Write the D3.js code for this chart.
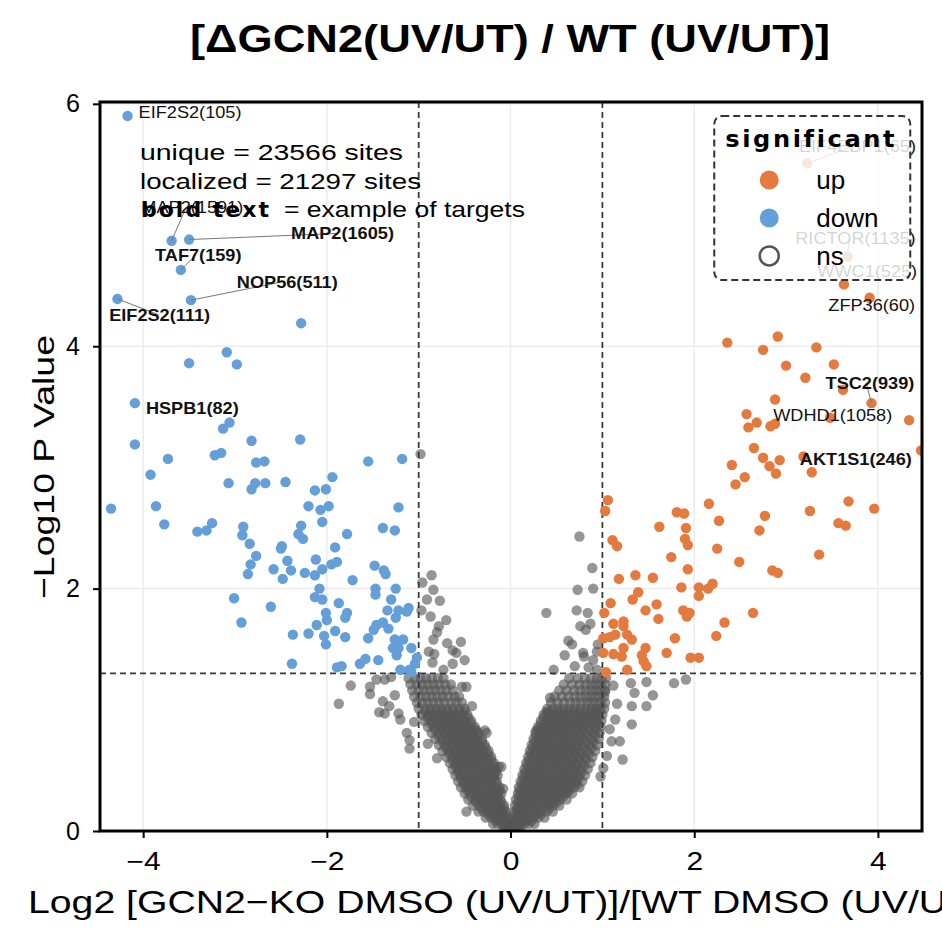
<!DOCTYPE html>
<html>
<head>
<meta charset="utf-8">
<script src="https://cdn.jsdelivr.net/npm/d3@7"></script>
<style>
  body { margin: 0; background: #fff; }
  svg text { font-family: "Liberation Sans", Arial, Helvetica, sans-serif; }
</style>
</head>
<body>
<svg width="942" height="944"></svg>
<script>
// significant down (blue)
const downX = [-4.17,-3.69,-3.50,-3.59,-4.28,-3.48,-2.28,-3.09,-3.50,-2.98,-4.09,-3.06,-3.13,-4.09,-2.82,-2.29,-3.73,-3.22,-3.15,-2.77,
  -2.68,-1.55,-1.18,-3.92,-3.07,-2.82,-2.78,-2.67,-2.45,-1.94,-2.13,-2.01,-4.35,-3.86,-3.77,-3.41,-3.31,-3.25,-2.91,-2.92,
  -2.84,-2.20,-2.07,-1.98,-2.05,-2.28,-2.31,-2.26,-1.78,-1.39,-1.26,-1.22,-2.49,-2.50,-2.77,-2.83,-2.86,-2.58,-2.43,-2.39,
  -2.48,-2.24,-2.13,-2.12,-2.05,-1.95,-1.89,-1.91,-1.72,-1.48,-1.38,-1.36,-2.08,-2.13,-2.05,-3.01,-2.61,-2.93,-1.87,-2.01,
  -2.00,-1.78,-1.80,-2.11,-2.37,-2.20,-2.03,-2.01,-1.91,-1.80,-1.47,-1.47,-1.25,-1.30,-1.34,-1.25,-1.22,-1.11,-1.13,-1.46,
  -1.39,-1.33,-1.49,-1.55,-1.26,-1.17,-1.28,-1.22,-1.08,-1.24,-1.44,-1.64,-1.58,-2.38,-1.89,-1.84,-1.20,-1.10,-1.04,-1.08,-1.02];
const downY = [5.90,4.87,4.88,4.63,4.39,4.38,4.19,3.95,3.86,3.85,3.53,3.37,3.32,3.19,3.22,3.23,3.07,3.10,3.12,3.04,
  3.05,3.05,3.07,2.94,2.87,2.82,2.87,2.87,2.88,2.92,2.81,2.82,2.66,2.68,2.53,2.47,2.48,2.54,2.51,2.44,
  2.37,2.68,2.65,2.68,2.55,2.52,2.45,2.41,2.45,2.50,2.48,2.67,2.35,2.33,2.27,2.20,2.12,2.16,2.23,2.15,
  2.08,2.13,2.11,2.24,2.16,2.20,2.22,2.34,2.07,2.19,2.15,2.12,2.00,1.93,1.91,1.92,1.85,1.72,1.88,1.80,
  1.74,1.80,1.76,1.70,1.62,1.63,1.61,1.54,1.65,1.60,2.00,1.95,2.00,1.91,1.82,1.76,1.82,1.84,1.81,1.70,
  1.72,1.67,1.66,1.59,1.58,1.58,1.51,1.51,1.51,1.45,1.41,1.38,1.42,1.38,1.35,1.36,1.33,1.33,1.38,1.31,1.43];

// significant up (orange)
const upX = [2.36,2.75,2.91,3.33,3.00,3.52,3.21,3.62,3.93,2.88,2.57,2.59,2.68,2.83,2.88,3.48,4.34,4.47,2.65,2.75,
  2.82,2.93,2.89,3.19,3.28,2.41,2.55,2.45,1.06,1.03,2.16,1.81,1.89,2.27,2.77,3.26,3.68,3.96,1.62,1.91,
  1.90,1.93,2.71,3.57,3.65,1.11,1.16,1.75,2.25,3.36,1.93,2.49,2.85,2.91,1.18,1.36,1.55,1.86,2.05,2.15,
  2.20,2.05,1.39,1.33,1.09,1.02,1.47,1.59,1.61,1.88,1.92,1.95,2.64,2.33,1.12,1.23,1.23,1.27,1.32,1.08,
  1.14,1.01,1.79,2.24,1.23,1.21,1.12,1.01,1.43,1.47,1.45,1.48,1.70,1.96,2.05,1.27,1.04,3.23,3.67,3.63,3.91];
const upY = [4.03,3.97,4.08,3.99,3.84,3.85,3.74,3.64,3.53,3.56,3.44,3.33,3.37,3.34,3.36,3.41,3.39,3.14,3.16,3.08,
  3.01,3.06,2.95,3.09,2.96,3.02,2.92,2.86,2.73,2.64,2.70,2.63,2.62,2.56,2.60,2.64,2.72,2.66,2.51,2.50,
  2.41,2.36,2.48,2.54,2.52,2.40,2.35,2.26,2.33,2.28,2.16,2.22,2.15,2.13,2.08,2.11,2.09,2.01,2.01,2.00,
  2.04,1.94,1.97,1.91,1.88,1.80,1.82,1.87,1.75,1.82,1.77,1.80,1.80,1.72,1.71,1.73,1.69,1.62,1.58,1.60,
  1.62,1.59,1.59,1.61,1.51,1.44,1.46,1.47,1.45,1.51,1.40,1.36,1.47,1.43,1.43,1.33,1.31,5.51,4.74,4.51,4.40];

// not significant: scattered points
const nsX = [-0.98,-0.86,-0.96,-0.84,-0.91,-0.77,-0.97,-0.87,-0.70,-0.78,-0.80,-0.84,-0.69,-0.54,-0.89,-0.83,-0.63,-0.59,-0.85,-0.63,-0.50,-0.73,
  0.75,0.89,0.73,0.90,0.39,0.72,0.84,0.76,0.82,0.87,0.63,0.67,0.79,0.80,0.94,0.47,0.70,0.90,0.95,0.85,0.94,0.59,
  -1.74,-1.87,-1.53,-1.53,-1.46,-1.37,-1.30,-1.39,-1.32,-1.43,-1.37,-1.26,-1.22,-1.20,-1.13,-1.10,-1.10,-0.42,-0.13,-0.48,-0.53,-0.48,-0.28,-0.26,-0.37,
  1.31,1.35,1.48,1.55,1.78,1.91,1.32,1.48,1.32,1.16,1.14,1.10,1.19,1.22,1.01,0.43,0.41,0.28,0.34,-0.10,-0.08,
  1.05,1.08,1.03,1.12,-0.80,-0.90,-1.05,0.98];
const nsY = [3.11,2.11,2.05,1.99,1.91,1.90,1.82,1.77,1.74,1.69,1.64,1.58,1.55,1.56,1.48,1.46,1.49,1.47,1.39,1.38,1.41,1.33,
  2.43,2.17,1.99,2.00,1.80,1.82,1.80,1.69,1.66,1.71,1.57,1.54,1.47,1.44,1.48,1.33,1.36,1.41,1.54,1.35,1.33,1.45,
  1.20,1.05,1.19,1.13,1.25,1.25,1.27,1.07,1.03,0.98,0.97,1.12,0.97,0.92,0.81,0.75,0.68,1.03,0.53,0.16,1.19,1.19,0.83,0.81,0.83,
  1.22,1.14,1.23,1.12,1.22,1.25,1.03,1.03,0.88,1.05,0.92,0.74,0.74,0.59,0.52,1.10,0.98,0.83,0.83,0.53,0.35,
  0.62,0.84,1.15,1.20,0.60,0.72,0.90,0.45];

// not significant: dense V-shaped core, read row by row
const nsRowY = [0.02,0.06,0.11,0.16,0.21,0.26,0.31,0.36,0.41,0.46,0.51,0.56,0.61,0.66,0.71,0.76,0.81,0.86,0.91,0.96,1.01,1.06,1.11,1.16,1.21,1.26];
const nsRowX = [
  [-0.08,-0.05,-0.02,0.01,0.04,0.07,0.11],
  [-0.19,-0.14,-0.09,-0.05,-0.02,0.02,0.06,0.11,0.15,0.2,0.26],
  [-0.27,-0.21,-0.17,-0.12,-0.08,-0.04,0.03,0.08,0.13,0.18,0.25,0.3,0.37],
  [-0.35,-0.29,-0.24,-0.18,-0.13,-0.09,-0.05,0.04,0.09,0.15,0.2,0.27,0.32,0.39,0.46],
  [-0.41,-0.34,-0.28,-0.23,-0.17,-0.12,-0.07,0.05,0.1,0.16,0.23,0.28,0.35,0.41,0.46,0.53],
  [-0.46,-0.39,-0.34,-0.28,-0.22,-0.17,-0.11,0.06,0.12,0.18,0.24,0.3,0.35,0.42,0.48,0.54,0.61],
  [-0.5,-0.44,-0.38,-0.32,-0.26,-0.2,-0.14,-0.1,0.08,0.13,0.19,0.25,0.31,0.38,0.43,0.49,0.56,0.61,0.67],
  [-0.54,-0.48,-0.43,-0.36,-0.3,-0.25,-0.18,-0.12,0.09,0.15,0.21,0.27,0.33,0.39,0.45,0.51,0.57,0.63,0.69,0.75],
  [-0.57,-0.51,-0.45,-0.39,-0.34,-0.27,-0.21,-0.15,0.11,0.17,0.23,0.28,0.35,0.41,0.47,0.52,0.59,0.65,0.71,0.78],
  [-0.6,-0.54,-0.48,-0.42,-0.36,-0.31,-0.24,-0.18,-0.14,0.13,0.19,0.25,0.31,0.37,0.42,0.49,0.55,0.61,0.67,0.74,0.81],
  [-0.63,-0.57,-0.51,-0.45,-0.39,-0.33,-0.27,-0.21,-0.16,0.15,0.21,0.26,0.33,0.39,0.45,0.5,0.57,0.63,0.69,0.76,0.84],
  [-0.66,-0.6,-0.55,-0.48,-0.42,-0.36,-0.3,-0.24,-0.18,0.17,0.23,0.29,0.35,0.4,0.47,0.53,0.59,0.65,0.71,0.78,0.87],
  [-0.7,-0.63,-0.57,-0.51,-0.45,-0.39,-0.33,-0.27,-0.21,0.19,0.24,0.31,0.37,0.43,0.49,0.55,0.61,0.67,0.74,0.81,0.89],
  [-0.74,-0.67,-0.6,-0.54,-0.48,-0.42,-0.36,-0.3,-0.24,0.21,0.27,0.33,0.39,0.44,0.51,0.57,0.63,0.69,0.76,0.83,0.92],
  [-0.78,-0.71,-0.64,-0.58,-0.52,-0.46,-0.4,-0.34,-0.28,0.23,0.29,0.35,0.41,0.47,0.53,0.59,0.64,0.71,0.78,0.86,0.94],
  [-0.82,-0.75,-0.68,-0.62,-0.56,-0.5,-0.44,-0.38,-0.31,0.25,0.31,0.36,0.43,0.49,0.55,0.61,0.67,0.73,0.8,0.88,0.96],
  [-0.86,-0.79,-0.72,-0.66,-0.6,-0.54,-0.48,-0.42,-0.35,0.27,0.33,0.39,0.45,0.51,0.57,0.62,0.69,0.75,0.82,0.9,0.97],
  [-0.9,-0.83,-0.76,-0.7,-0.64,-0.58,-0.52,-0.46,-0.39,0.3,0.36,0.42,0.48,0.54,0.6,0.66,0.72,0.78,0.85,0.92,0.98],
  [-0.94,-0.87,-0.8,-0.74,-0.68,-0.62,-0.56,-0.5,-0.43,0.33,0.39,0.45,0.51,0.57,0.63,0.69,0.75,0.81,0.87,0.93,0.99],
  [-0.97,-0.9,-0.84,-0.78,-0.72,-0.66,-0.6,-0.53,-0.47,0.36,0.42,0.48,0.54,0.6,0.66,0.72,0.78,0.84,0.9,0.95,1.0],
  [-1.0,-0.93,-0.87,-0.81,-0.75,-0.69,-0.63,-0.56,-0.5,0.4,0.46,0.52,0.58,0.64,0.7,0.76,0.82,0.88,0.93,0.98,1.02],
  [-1.02,-0.96,-0.9,-0.84,-0.78,-0.72,-0.65,-0.59,-0.53,0.44,0.51,0.58,0.65,0.71,0.77,0.83,0.88,0.93,0.98,1.03],
  [-1.05,-0.98,-0.92,-0.86,-0.8,-0.74,-0.68,-0.61,-0.56,0.48,0.56,0.63,0.7,0.76,0.82,0.87,0.92,0.97,1.02],
  [-1.07,-1.0,-0.94,-0.88,-0.82,-0.76,-0.7,-0.63,0.53,0.61,0.69,0.76,0.82,0.88,0.93,0.98,1.03],
  [-1.09,-1.02,-0.96,-0.9,-0.84,-0.78,-0.71,-0.65,0.58,0.67,0.75,0.82,0.88,0.93,0.98,1.03],
  [-1.11,-1.04,-0.98,-0.92,-0.86,-0.79,-0.73,0.64,0.73,0.81,0.88,0.94,0.99,1.04]
];
// second pass over the same core, between the rows above
const nsRowY2 = [0.04,0.085,0.135,0.185,0.235,0.285,0.335,0.385,0.435,0.485,0.535,0.585,0.635,0.685,0.735,0.785,0.835,0.885,0.935,0.985];
const nsRowX2 = [
  [-0.06,-0.03,0.03,0.06,0.09],
  [-0.16,-0.11,-0.07,-0.03,0.04,0.08,0.13,0.17,0.23],
  [-0.24,-0.19,-0.14,-0.1,-0.06,0.05,0.1,0.16,0.21,0.27,0.33],
  [-0.32,-0.26,-0.21,-0.15,-0.11,-0.07,0.07,0.12,0.18,0.24,0.29,0.36,0.42],
  [-0.37,-0.31,-0.25,-0.2,-0.14,-0.1,0.08,0.13,0.19,0.25,0.32,0.38,0.44,0.5],
  [-0.43,-0.37,-0.31,-0.25,-0.19,-0.14,0.09,0.15,0.21,0.27,0.33,0.39,0.45,0.51,0.57],
  [-0.47,-0.41,-0.35,-0.29,-0.23,-0.17,-0.12,0.1,0.16,0.22,0.28,0.34,0.4,0.46,0.52,0.58,0.64],
  [-0.51,-0.45,-0.4,-0.33,-0.27,-0.21,-0.15,0.12,0.18,0.24,0.3,0.36,0.42,0.48,0.54,0.6,0.66,0.72],
  [-0.54,-0.48,-0.42,-0.36,-0.3,-0.24,-0.18,0.14,0.2,0.26,0.32,0.38,0.44,0.5,0.56,0.62,0.68,0.74],
  [-0.57,-0.51,-0.45,-0.39,-0.33,-0.27,-0.21,-0.16,0.16,0.22,0.28,0.34,0.4,0.46,0.52,0.58,0.64,0.7,0.77],
  [-0.6,-0.54,-0.48,-0.42,-0.36,-0.3,-0.24,-0.18,0.18,0.24,0.3,0.36,0.42,0.48,0.54,0.6,0.66,0.72,0.8],
  [-0.63,-0.57,-0.51,-0.45,-0.39,-0.33,-0.27,-0.21,0.2,0.26,0.32,0.38,0.44,0.5,0.56,0.62,0.68,0.75,0.82],
  [-0.66,-0.6,-0.54,-0.48,-0.42,-0.36,-0.3,-0.24,0.22,0.28,0.34,0.4,0.46,0.52,0.58,0.64,0.7,0.77,0.85],
  [-0.7,-0.63,-0.57,-0.51,-0.45,-0.39,-0.33,-0.27,0.24,0.3,0.36,0.42,0.48,0.54,0.6,0.66,0.72,0.8,0.88],
  [-0.74,-0.67,-0.61,-0.55,-0.49,-0.43,-0.37,-0.31,0.26,0.32,0.38,0.44,0.5,0.56,0.62,0.68,0.75,0.82,0.9],
  [-0.78,-0.71,-0.65,-0.59,-0.53,-0.47,-0.41,-0.35,0.28,0.34,0.4,0.46,0.52,0.58,0.64,0.7,0.77,0.84,0.92],
  [-0.82,-0.75,-0.69,-0.63,-0.57,-0.51,-0.45,-0.39,0.3,0.36,0.42,0.48,0.54,0.6,0.66,0.72,0.79,0.86,0.93],
  [-0.86,-0.79,-0.73,-0.67,-0.61,-0.55,-0.49,-0.43,0.33,0.39,0.45,0.51,0.57,0.63,0.69,0.75,0.81,0.88,0.95],
  [-0.9,-0.83,-0.77,-0.71,-0.65,-0.59,-0.53,-0.46,0.36,0.42,0.48,0.54,0.6,0.66,0.72,0.78,0.84,0.9,0.96],
  [-0.93,-0.87,-0.81,-0.75,-0.69,-0.63,-0.56,-0.5,0.39,0.45,0.51,0.57,0.63,0.69,0.75,0.81,0.87,0.92,0.97]
];

// labelled sites: point, label position (data units), weight, connector
const labelText = ["EIF2S2(105)","MAP2(1591)","MAP2(1605)","TAF7(159)","NOP56(511)","EIF2S2(111)","HSPB1(82)",
  "EIF4EBP1(65)","RICTOR(1135)","WWC1(525)","ZFP36(60)","TSC2(939)","WDHD1(1058)","AKT1S1(246)"];
const labelPointX = [-4.17,-3.69,-3.50,-3.59,-3.48,-4.28,-4.09,3.23,3.67,3.63,3.91,3.93,3.48,3.28];
const labelPointY = [5.90,4.87,4.88,4.63,4.38,4.39,3.53,5.51,4.74,4.51,4.40,3.53,3.41,2.96];
const labelX = [-4.05,-4.02,-2.39,-3.87,-2.98,-4.37,-3.97,3.14,3.10,3.34,3.46,3.43,2.86,3.15];
const labelY = [5.93,5.15,4.93,4.75,4.53,4.26,3.49,5.65,4.89,4.62,4.34,3.70,3.43,3.07];
const labelBold = [0,0,1,1,1,1,1,0,0,0,0,1,0,1];
const labelLine = [0,1,1,1,1,1,0,1,1,0,0,1,0,0];

const xTicks = [-4, -2, 0, 2, 4];
const yTicks = [0, 2, 4, 6];
const fcCut = 1;
const pCut = -Math.log10(0.05);

const legendLabels = ["up", "down", "ns"];
const statsLines = ["unique = 23566 sites", "localized = 21297 sites"];

const upColor = "#e47a3e";
const downColor = "#649fd8";
const nsColor = "#555555";

const svg = d3.select("svg");
const margin = { top: 102, right: 20, bottom: 113, left: 100 };
const width = +svg.attr("width") - margin.left - margin.right;
const height = +svg.attr("height") - margin.top - margin.bottom;

const g = svg.append("g").attr("transform", `translate(${margin.left},${margin.top})`);

svg.append("defs").append("clipPath")
  .attr("id", "clip")
  .append("rect")
  .attr("width", width)
  .attr("height", height);

const x = d3.scaleLinear().domain([-4.47, 4.48]).range([0, width]);
const y = d3.scaleLinear().domain([0, 6.015]).range([height, 0]);

// grid
g.append("g").selectAll("line")
  .data(xTicks)
  .join("line")
  .attr("x1", d => x(d)).attr("x2", d => x(d))
  .attr("y1", 0).attr("y2", height)
  .attr("stroke", "#ececec").attr("stroke-width", 1.5);
g.append("g").selectAll("line")
  .data(yTicks)
  .join("line")
  .attr("x1", 0).attr("x2", width)
  .attr("y1", d => y(d)).attr("y2", d => y(d))
  .attr("stroke", "#ececec").attr("stroke-width", 1.5);

const chartArea = g.append("g").attr("clip-path", "url(#clip)");

const nsPts = [];
nsRowY.forEach((yv, i) => nsRowX[i].forEach(xv => nsPts.push([xv, yv])));
nsRowY2.forEach((yv, i) => nsRowX2[i].forEach(xv => nsPts.push([xv, yv])));
nsX.forEach((xv, i) => nsPts.push([xv, nsY[i]]));

chartArea.append("g").selectAll("circle")
  .data(nsPts)
  .join("circle")
  .attr("cx", d => x(d[0]))
  .attr("cy", d => y(d[1]))
  .attr("r", 5.2)
  .attr("fill", nsColor)
  .attr("fill-opacity", 0.62);

// threshold lines
const dash = "6,4";
chartArea.selectAll(".vcut")
  .data([-fcCut, fcCut])
  .join("line")
  .attr("class", "vcut")
  .attr("x1", d => x(d)).attr("x2", d => x(d))
  .attr("y1", 0).attr("y2", height)
  .attr("stroke", "#3a3a3a").attr("stroke-width", 1.8)
  .style("stroke-dasharray", dash);
chartArea.append("line")
  .attr("x1", 0).attr("x2", width)
  .attr("y1", y(pCut)).attr("y2", y(pCut))
  .attr("stroke", "#3a3a3a").attr("stroke-width", 1.8)
  .style("stroke-dasharray", dash);

chartArea.append("g").selectAll("circle")
  .data(downX.map((v, i) => [v, downY[i]]))
  .join("circle")
  .attr("cx", d => x(d[0]))
  .attr("cy", d => y(d[1]))
  .attr("r", 5.2)
  .attr("fill", downColor);

chartArea.append("g").selectAll("circle")
  .data(upX.map((v, i) => [v, upY[i]]))
  .join("circle")
  .attr("cx", d => x(d[0]))
  .attr("cy", d => y(d[1]))
  .attr("r", 5.2)
  .attr("fill", upColor);

// labels
const labels = labelText.map((t, i) => ({
  text: t, px: labelPointX[i], py: labelPointY[i], lx: labelX[i], ly: labelY[i],
  bold: labelBold[i], line: labelLine[i]
}));

const labelG = g.append("g");
labelG.selectAll("line")
  .data(labels.filter(d => d.line))
  .join("line")
  .attr("x1", d => x(d.px)).attr("y1", d => y(d.py))
  .attr("x2", d => x(d.lx) + d.text.length * 4.5).attr("y2", d => y(d.ly))
  .attr("stroke", "#777").attr("stroke-width", 1);

labelG.selectAll("text")
  .data(labels)
  .join("text")
  .attr("x", d => x(d.lx))
  .attr("y", d => y(d.ly))
  .attr("dy", "0.36em")
  .attr("font-size", 16.5)
  .attr("font-weight", d => d.bold ? "bold" : "normal")
  .attr("fill", "#111")
  .text(d => d.text)
  .each(function() {
    const w = this.getComputedTextLength();
    d3.select(this).attr("textLength", w * 1.1).attr("lengthAdjust", "spacingAndGlyphs");
  });

// axes
const xAxis = d3.axisBottom(x).tickValues(xTicks).tickSize(7).tickPadding(14);
const yAxis = d3.axisLeft(y).tickValues(yTicks).tickSize(7).tickPadding(13).tickFormat(d3.format("d"));

g.append("g")
  .attr("transform", `translate(0,${height})`)
  .call(xAxis)
  .call(a => a.select(".domain").remove())
  .call(a => a.selectAll("line").attr("stroke", "#000").attr("stroke-width", 2))
  .call(a => a.selectAll("text").attr("font-size", 25).attr("fill", "#000")
    .attr("transform", "scale(1.2,1)"));

g.append("g")
  .call(yAxis)
  .call(a => a.select(".domain").remove())
  .call(a => a.selectAll("line").attr("stroke", "#000").attr("stroke-width", 2))
  .call(a => a.selectAll("text").attr("font-size", 25).attr("fill", "#000"));

g.append("rect")
  .attr("width", width)
  .attr("height", height)
  .attr("fill", "none")
  .attr("stroke", "#000")
  .attr("stroke-width", 3);

// legend
const legend = g.append("g").attr("transform", `translate(${x(2.218)},${y(5.9)})`);
legend.append("rect")
  .attr("width", 196).attr("height", 164)
  .attr("rx", 8)
  .attr("fill", "#fff").attr("fill-opacity", 0.82)
  .attr("stroke", "#333").attr("stroke-width", 2)
  .style("stroke-dasharray", "7,4");
legend.append("text")
  .attr("x", 11).attr("y", 31)
  .attr("font-size", 23)
  .attr("font-weight", "bold")
  .attr("letter-spacing", 2.5)
  .style("font-family", "'DejaVu Sans', sans-serif")
  .attr("textLength", 172)
  .attr("lengthAdjust", "spacingAndGlyphs")
  .text("significant");
const legendItems = legend.selectAll(".item")
  .data(legendLabels)
  .join("g")
  .attr("class", "item")
  .attr("transform", (d, i) => `translate(0,${64 + i * 38})`);
legendItems.append("circle")
  .attr("cx", 55).attr("r", 9.5)
  .attr("fill", d => d === "up" ? upColor : d === "down" ? downColor : "none")
  .attr("stroke", d => d === "ns" ? "#555" : "none")
  .attr("stroke-width", 2.5);
legendItems.append("text")
  .attr("x", 102)
  .attr("dy", "0.35em")
  .attr("font-size", 26)
  .text(d => d);

// stats text
const stats = g.append("g").attr("transform", "translate(40,58)");
stats.selectAll("text")
  .data(statsLines)
  .join("text")
  .attr("y", (d, i) => i * 28.5)
  .attr("font-size", 22)
  .attr("textLength", (d, i) => i === 0 ? 263 : 281)
  .attr("lengthAdjust", "spacingAndGlyphs")
  .text(d => d);
stats.append("text")
  .attr("x", 1).attr("y", 57)
  .attr("font-size", 22)
  .attr("font-weight", "bold")
  .attr("letter-spacing", 2)
  .style("font-family", "'DejaVu Sans', sans-serif")
  .attr("textLength", 130)
  .attr("lengthAdjust", "spacingAndGlyphs")
  .text("bold text");
stats.append("text")
  .attr("x", 144).attr("y", 57)
  .attr("font-size", 22)
  .attr("textLength", 241)
  .attr("lengthAdjust", "spacingAndGlyphs")
  .text("= example of targets");

// titles
svg.append("text")
  .attr("x", 510).attr("y", 52)
  .attr("text-anchor", "middle")
  .attr("font-size", 38)
  .attr("font-weight", "bold")
  .attr("textLength", 640)
  .attr("lengthAdjust", "spacingAndGlyphs")
  .text("[ΔGCN2(UV/UT) / WT (UV/UT)]");

svg.append("text")
  .attr("x", 511.5).attr("y", 913)
  .attr("text-anchor", "middle")
  .attr("font-size", 32)
  .attr("textLength", 967)
  .attr("lengthAdjust", "spacingAndGlyphs")
  .text("Log2 [GCN2\u2212KO DMSO (UV/UT)]/[WT DMSO (UV/UT)]");

svg.append("text")
  .attr("transform", "translate(54,467) rotate(-90)")
  .attr("text-anchor", "middle")
  .attr("font-size", 30)
  .attr("textLength", 264)
  .attr("lengthAdjust", "spacingAndGlyphs")
  .text("\u2212Log10 P Value");
</script>
</body>
</html>
